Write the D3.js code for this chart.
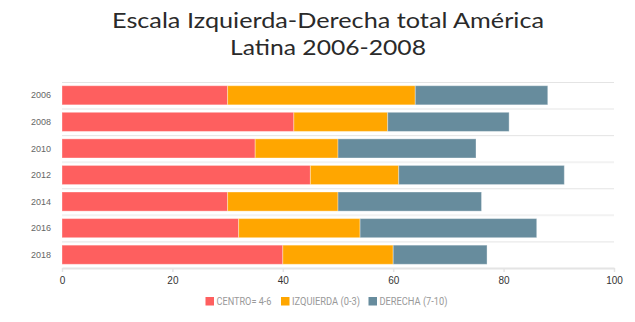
<!DOCTYPE html>
<html><head><meta charset="utf-8">
<script src="https://cdn.jsdelivr.net/npm/d3@7"></script>
<style>body{margin:0;background:#fff;}svg{display:block;}</style>
</head><body>
<svg id="c" width="635" height="322"></svg>
<script>
const years = ["2006","2008","2010","2012","2014","2016","2018"];
const centro = [30,42,35,45,30,32,40];
const izquierda = [34,17,15,16,20,22,20];
const derecha = [24,22,25,30,26,32,17];
const seriesNames = ["CENTRO= 4-6","IZQUIERDA (0-3)","DERECHA (7-10)"];
const colors = ["#fe5f5f","#ffa600","#678c9d"];
const xTicks = [0,20,40,60,80,100];

const svg = d3.select("#c");
const m = {l:62, r:21, t:82, b:54};
const W = 635, H = 322;
const x = d3.scaleLinear().domain([0,100]).range([m.l, W-m.r]);
const y = d3.scaleBand().domain(years).range([m.t, H-m.b]).paddingInner(0.28).paddingOuter(0.14);

// title
const title = svg.append("g").attr("font-family","Lato, 'Open Sans', sans-serif").attr("fill","#2a2a2a").attr("font-size",22);
title.append("text").attr("x",328).attr("y",27.5).attr("text-anchor","middle").attr("textLength",432).attr("lengthAdjust","spacingAndGlyphs").text("Escala Izquierda-Derecha total América");
title.append("text").attr("x",328).attr("y",54.5).attr("text-anchor","middle").attr("textLength",196).attr("lengthAdjust","spacingAndGlyphs").text("Latina 2006-2008");

// band separator lines
const step = y.step();
const y0 = m.t;
for (let i=0;i<years.length;i++){
  svg.append("line").attr("x1",m.l).attr("x2",W-m.r)
    .attr("y1",y0+i*step+0.5).attr("y2",y0+i*step+0.5)
    .attr("stroke", i%2===0 ? "#e4e4e4" : "#f2f2f2").attr("stroke-width", i%2===0?1:2);
}

// stacked bars
const data = years.map((yr,i)=>({year:yr, v:[centro[i],izquierda[i],derecha[i]]}));
data.forEach(d=>{
  let acc = 0;
  d.v.forEach((val,k)=>{
    svg.append("rect")
      .attr("x", x(acc)).attr("y", y(d.year))
      .attr("width", x(acc+val)-x(acc)).attr("height", y.bandwidth())
      .attr("fill", colors[k]).attr("stroke","#ffffff").attr("stroke-opacity",0.35).attr("stroke-width",1);
    acc += val;
  });
});

// y labels
svg.append("g").selectAll("text").data(years).join("text")
  .attr("x",51).attr("y",d=>y(d)+y.bandwidth()/2).attr("dy","0.35em")
  .attr("text-anchor","end").attr("font-family","'Liberation Sans', Arial, sans-serif")
  .attr("font-size",9).attr("fill","#666").text(d=>d);

// x axis
const xa = svg.append("g").attr("transform",`translate(0,${H-m.b})`)
  .call(d3.axisBottom(x).tickValues(xTicks).tickSize(4).tickSizeOuter(0));
xa.select(".domain").attr("stroke","#e4e4e4").attr("stroke-width",2);
xa.selectAll(".tick line").attr("stroke","#e4e4e4").attr("stroke-width",1.5);
xa.selectAll(".tick text").attr("font-family","'Liberation Sans', Arial, sans-serif").attr("font-size",10).attr("fill","#333").attr("dy","0.9em");

// legend
const legX = [205.5, 281, 368.5];
const legW = [55, 68, 68];
const leg = svg.append("g");
seriesNames.forEach((n,k)=>{
  leg.append("rect").attr("x",legX[k]).attr("y",297).attr("width",8.5).attr("height",8.5).attr("fill",colors[k]);
  leg.append("text").attr("x",legX[k]+11).attr("y",301.5).attr("dy","0.35em")
    .attr("textLength",legW[k]).attr("lengthAdjust","spacingAndGlyphs")
    .attr("font-family","Roboto, 'Liberation Sans', sans-serif").attr("font-size",10).attr("fill","#999").text(n);
});
</script>
</body></html>
